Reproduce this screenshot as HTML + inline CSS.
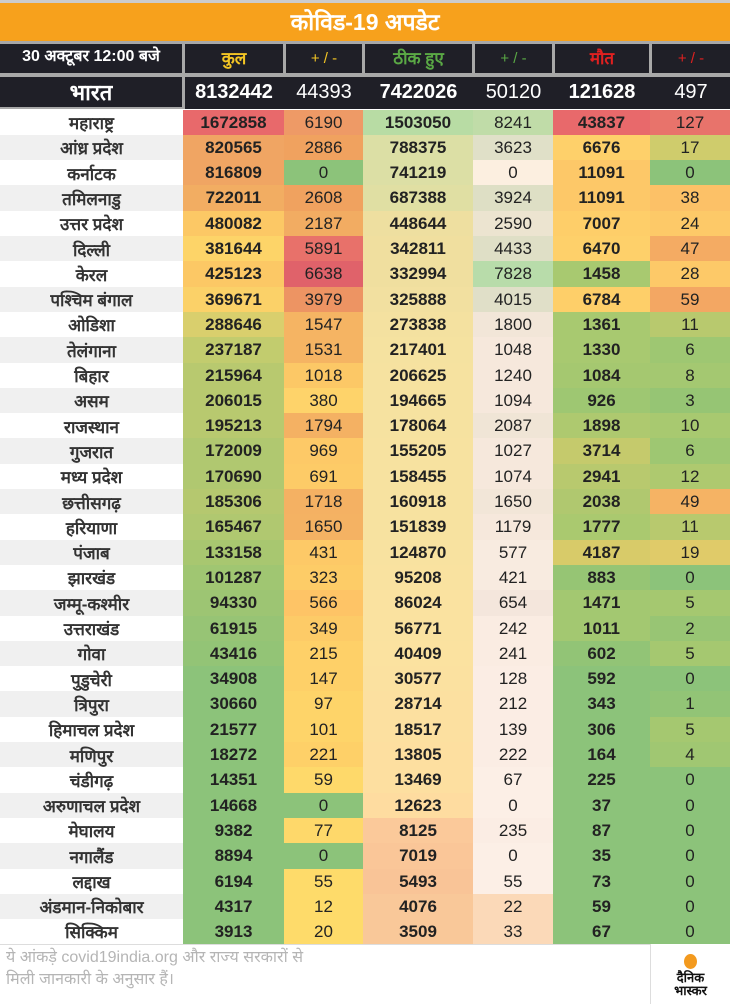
<!DOCTYPE html>
<html><head><meta charset="utf-8"><style>
*{margin:0;padding:0;box-sizing:border-box}
body{width:730px;height:1004px;background:#fff;font-family:"Liberation Sans Narrow","Liberation Sans","Noto Sans CJK SC",sans-serif;overflow:hidden;position:relative}
.top{position:absolute;left:0;top:0;width:730px;height:3px;background:#ccc}
.title{position:absolute;left:0;top:3px;width:730px;height:38px;background:#f7a11c;color:#fff;font:bold 23px "Liberation Sans","Noto Sans CJK SC",sans-serif;text-align:center;line-height:38px}
.hdr{position:absolute;left:0;top:41px;width:730px;height:68px;background:#a8a8a8}
.hc{position:absolute;background:#1f1f27;color:#fff;text-align:center}
.r{position:absolute;left:0;width:730px;height:26px;display:flex}
.r div{height:100%;display:flex;align-items:center;justify-content:center;font-size:17px;color:#222}
.n{width:183px;font-family:"Liberation Sans","Noto Sans CJK SC",sans-serif!important;font-weight:bold;font-size:17px!important;color:#333!important}
.c1{width:101px;font-weight:bold}.c2{width:79px}.c3{width:110px;font-weight:bold}.c4{width:80px}.c5{width:97px;font-weight:bold}.c6{width:80px}
.foot{position:absolute;left:0;top:944px;width:650px;height:60px;color:#b5b5b5;font:16px "Liberation Sans","Noto Sans CJK SC",sans-serif;padding:2px 0 0 6px;line-height:22px;border-top:1px solid #ddd}
.logo{position:absolute;left:650px;top:944px;width:80px;height:60px;border-left:1px solid #ddd;text-align:center}
</style></head><body>
<div class="top"></div>
<div class="title">कोविड-19 अपडेट</div>
<div class="hdr">
<div class="hc" style="left:0;top:3px;width:182px;height:29px;line-height:29px;font:bold 16px 'Liberation Sans','Noto Sans CJK SC',sans-serif">30 अक्टूबर 12:00 बजे</div>
<div class="hc" style="left:185px;top:3px;width:98px;height:29px;line-height:29px;color:#f3c524;font-size:17px;font-weight:bold">कुल</div>
<div class="hc" style="left:286px;top:3px;width:76px;height:29px;line-height:29px;color:#f3c524;font-size:15px">+ / -</div>
<div class="hc" style="left:365px;top:3px;width:107px;height:29px;line-height:29px;color:#5aa845;font-size:17px;font-weight:bold">ठीक हुए</div>
<div class="hc" style="left:475px;top:3px;width:77px;height:29px;line-height:29px;color:#5aa845;font-size:15px">+ / -</div>
<div class="hc" style="left:555px;top:3px;width:94px;height:29px;line-height:29px;color:#e02020;font-size:17px;font-weight:bold">मौत</div>
<div class="hc" style="left:652px;top:3px;width:78px;height:29px;line-height:29px;color:#e02020;font-size:15px">+ / -</div>
<div class="hc" style="left:0;top:36px;width:182px;height:30px;line-height:30px;font:bold 22px 'Liberation Sans','Noto Sans CJK SC',sans-serif">भारत</div>
<div class="hc" style="left:185px;top:36px;width:545px;height:32px"></div>
<div class="hc" style="left:185px;top:36px;width:98px;height:30px;line-height:30px;font-size:20px;font-weight:bold">8132442</div>
<div class="hc" style="left:286px;top:36px;width:76px;height:30px;line-height:30px;font-size:20px">44393</div>
<div class="hc" style="left:365px;top:36px;width:107px;height:30px;line-height:30px;font-size:20px;font-weight:bold">7422026</div>
<div class="hc" style="left:475px;top:36px;width:77px;height:30px;line-height:30px;font-size:20px">50120</div>
<div class="hc" style="left:555px;top:36px;width:94px;height:30px;line-height:30px;font-size:20px;font-weight:bold">121628</div>
<div class="hc" style="left:652px;top:36px;width:78px;height:30px;line-height:30px;font-size:20px">497</div>
</div>

<div class="r" style="top:109.5px"><div class="n" style="background:#fff">महाराष्ट्र</div><div class="c1" style="background:#e8696b">1672858</div><div class="c2" style="background:#ee9a66">6190</div><div class="c3" style="background:#b8dca4">1503050</div><div class="c4" style="background:#c0dca8">8241</div><div class="c5" style="background:#e8696b">43837</div><div class="c6" style="background:#e8736b">127</div></div>
<div class="r" style="top:134.8px"><div class="n" style="background:#f0f0f0">आंध्र प्रदेश</div><div class="c1" style="background:#f0a563">820565</div><div class="c2" style="background:#f0a25f">2886</div><div class="c3" style="background:#dcdfa5">788375</div><div class="c4" style="background:#e0e0c8">3623</div><div class="c5" style="background:#fed06a">6676</div><div class="c6" style="background:#cfcc6c">17</div></div>
<div class="r" style="top:160.1px"><div class="n" style="background:#fff">कर्नाटक</div><div class="c1" style="background:#f0a563">816809</div><div class="c2" style="background:#8cc37a">0</div><div class="c3" style="background:#dcdfa5">741219</div><div class="c4" style="background:#fcefe0">0</div><div class="c5" style="background:#fdc868">11091</div><div class="c6" style="background:#8cc37a">0</div></div>
<div class="r" style="top:185.4px"><div class="n" style="background:#f0f0f0">तमिलनाडु</div><div class="c1" style="background:#f2ad62">722011</div><div class="c2" style="background:#f0a25f">2608</div><div class="c3" style="background:#e0dfa3">687388</div><div class="c4" style="background:#dedfc5">3924</div><div class="c5" style="background:#fdc868">11091</div><div class="c6" style="background:#fcc167">38</div></div>
<div class="r" style="top:210.7px"><div class="n" style="background:#fff">उत्तर प्रदेश</div><div class="c1" style="background:#fcc865">480082</div><div class="c2" style="background:#f2ac62">2187</div><div class="c3" style="background:#eedfa0">448644</div><div class="c4" style="background:#ece4d0">2590</div><div class="c5" style="background:#fece69">7007</div><div class="c6" style="background:#fdc968">24</div></div>
<div class="r" style="top:236px"><div class="n" style="background:#f0f0f0">दिल्ली</div><div class="c1" style="background:#fdd468">381644</div><div class="c2" style="background:#e8716a">5891</div><div class="c3" style="background:#f0df9f">342811</div><div class="c4" style="background:#dfdfc6">4433</div><div class="c5" style="background:#fed06a">6470</div><div class="c6" style="background:#f4ab63">47</div></div>
<div class="r" style="top:261.3px"><div class="n" style="background:#fff">केरल</div><div class="c1" style="background:#fcc865">425123</div><div class="c2" style="background:#e0626a">6638</div><div class="c3" style="background:#f0df9f">332994</div><div class="c4" style="background:#b8dcaa">7828</div><div class="c5" style="background:#a8c970">1458</div><div class="c6" style="background:#fdc968">28</div></div>
<div class="r" style="top:286.6px"><div class="n" style="background:#f0f0f0">पश्चिम बंगाल</div><div class="c1" style="background:#fbd168">369671</div><div class="c2" style="background:#ed9463">3979</div><div class="c3" style="background:#f2e0a0">325888</div><div class="c4" style="background:#e0dfc8">4015</div><div class="c5" style="background:#fecf69">6784</div><div class="c6" style="background:#f3a763">59</div></div>
<div class="r" style="top:311.9px"><div class="n" style="background:#fff">ओडिशा</div><div class="c1" style="background:#d9cf6d">288646</div><div class="c2" style="background:#f5b463">1547</div><div class="c3" style="background:#f4e1a0">273838</div><div class="c4" style="background:#f2e6d8">1800</div><div class="c5" style="background:#a8c970">1361</div><div class="c6" style="background:#b8c96e">11</div></div>
<div class="r" style="top:337.2px"><div class="n" style="background:#f0f0f0">तेलंगाना</div><div class="c1" style="background:#c2cc6e">237187</div><div class="c2" style="background:#f5b463">1531</div><div class="c3" style="background:#f5e2a0">217401</div><div class="c4" style="background:#f6e8dc">1048</div><div class="c5" style="background:#a8c970">1330</div><div class="c6" style="background:#9ec772">6</div></div>
<div class="r" style="top:362.5px"><div class="n" style="background:#fff">बिहार</div><div class="c1" style="background:#b8c96f">215964</div><div class="c2" style="background:#fcc866">1018</div><div class="c3" style="background:#f6e2a0">206625</div><div class="c4" style="background:#f6e8dc">1240</div><div class="c5" style="background:#a5c870">1084</div><div class="c6" style="background:#a4c871">8</div></div>
<div class="r" style="top:387.8px"><div class="n" style="background:#f0f0f0">असम</div><div class="c1" style="background:#b8c96f">206015</div><div class="c2" style="background:#fed36a">380</div><div class="c3" style="background:#f6e2a0">194665</div><div class="c4" style="background:#f6e8dc">1094</div><div class="c5" style="background:#9ec772">926</div><div class="c6" style="background:#96c574">3</div></div>
<div class="r" style="top:413.1px"><div class="n" style="background:#fff">राजस्थान</div><div class="c1" style="background:#b8c96f">195213</div><div class="c2" style="background:#f4b163">1794</div><div class="c3" style="background:#f6e2a0">178064</div><div class="c4" style="background:#f0e5d6">2087</div><div class="c5" style="background:#aec96f">1898</div><div class="c6" style="background:#a8c970">10</div></div>
<div class="r" style="top:438.4px"><div class="n" style="background:#f0f0f0">गुजरात</div><div class="c1" style="background:#b0c870">172009</div><div class="c2" style="background:#fdc967">969</div><div class="c3" style="background:#f7e2a0">155205</div><div class="c4" style="background:#f6e8dc">1027</div><div class="c5" style="background:#c5ca6c">3714</div><div class="c6" style="background:#9ec772">6</div></div>
<div class="r" style="top:463.7px"><div class="n" style="background:#fff">मध्य प्रदेश</div><div class="c1" style="background:#b0c870">170690</div><div class="c2" style="background:#fdcb67">691</div><div class="c3" style="background:#f7e2a0">158455</div><div class="c4" style="background:#f6e8dc">1074</div><div class="c5" style="background:#b8c96e">2941</div><div class="c6" style="background:#aec96f">12</div></div>
<div class="r" style="top:489px"><div class="n" style="background:#f0f0f0">छत्तीसगढ़</div><div class="c1" style="background:#b5c86f">185306</div><div class="c2" style="background:#f4b163">1718</div><div class="c3" style="background:#f7e2a0">160918</div><div class="c4" style="background:#f2e6d8">1650</div><div class="c5" style="background:#b0c86f">2038</div><div class="c6" style="background:#f5b364">49</div></div>
<div class="r" style="top:514.3px"><div class="n" style="background:#fff">हरियाणा</div><div class="c1" style="background:#b0c870">165467</div><div class="c2" style="background:#f4b263">1650</div><div class="c3" style="background:#f7e2a0">151839</div><div class="c4" style="background:#f6e8dc">1179</div><div class="c5" style="background:#aac96f">1777</div><div class="c6" style="background:#b8c96e">11</div></div>
<div class="r" style="top:539.6px"><div class="n" style="background:#f0f0f0">पंजाब</div><div class="c1" style="background:#a8c770">133158</div><div class="c2" style="background:#fdc967">431</div><div class="c3" style="background:#f8e2a0">124870</div><div class="c4" style="background:#f8ebe0">577</div><div class="c5" style="background:#d8cb69">4187</div><div class="c6" style="background:#e0cb69">19</div></div>
<div class="r" style="top:564.9px"><div class="n" style="background:#fff">झारखंड</div><div class="c1" style="background:#a0c672">101287</div><div class="c2" style="background:#fdcc67">323</div><div class="c3" style="background:#f9e2a0">95208</div><div class="c4" style="background:#f8ebe0">421</div><div class="c5" style="background:#96c574">883</div><div class="c6" style="background:#8cc37a">0</div></div>
<div class="r" style="top:590.2px"><div class="n" style="background:#f0f0f0">जम्मू-कश्मीर</div><div class="c1" style="background:#9dc573">94330</div><div class="c2" style="background:#fec466">566</div><div class="c3" style="background:#fae2a0">86024</div><div class="c4" style="background:#f4e6dc">654</div><div class="c5" style="background:#a3c871">1471</div><div class="c6" style="background:#a5c870">5</div></div>
<div class="r" style="top:615.5px"><div class="n" style="background:#fff">उत्तराखंड</div><div class="c1" style="background:#97c475">61915</div><div class="c2" style="background:#fdcb67">349</div><div class="c3" style="background:#fae2a0">56771</div><div class="c4" style="background:#faece2">242</div><div class="c5" style="background:#a3c871">1011</div><div class="c6" style="background:#98c574">2</div></div>
<div class="r" style="top:640.8px"><div class="n" style="background:#f0f0f0">गोवा</div><div class="c1" style="background:#93c476">43416</div><div class="c2" style="background:#fed068">215</div><div class="c3" style="background:#fbe2a0">40409</div><div class="c4" style="background:#faece2">241</div><div class="c5" style="background:#92c476">602</div><div class="c6" style="background:#a5c870">5</div></div>
<div class="r" style="top:666.1px"><div class="n" style="background:#fff">पुडुचेरी</div><div class="c1" style="background:#8cc37a">34908</div><div class="c2" style="background:#fed068">147</div><div class="c3" style="background:#fbe1a0">30577</div><div class="c4" style="background:#fbede4">128</div><div class="c5" style="background:#8cc37a">592</div><div class="c6" style="background:#8cc37a">0</div></div>
<div class="r" style="top:691.4px"><div class="n" style="background:#f0f0f0">त्रिपुरा</div><div class="c1" style="background:#8cc37a">30660</div><div class="c2" style="background:#fed469">97</div><div class="c3" style="background:#fce0a0">28714</div><div class="c4" style="background:#fbede4">212</div><div class="c5" style="background:#8cc37a">343</div><div class="c6" style="background:#92c476">1</div></div>
<div class="r" style="top:716.7px"><div class="n" style="background:#fff">हिमाचल प्रदेश</div><div class="c1" style="background:#8cc37a">21577</div><div class="c2" style="background:#fed469">101</div><div class="c3" style="background:#fce0a0">18517</div><div class="c4" style="background:#fbede4">139</div><div class="c5" style="background:#8cc37a">306</div><div class="c6" style="background:#a5c870">5</div></div>
<div class="r" style="top:742px"><div class="n" style="background:#f0f0f0">मणिपुर</div><div class="c1" style="background:#8cc37a">18272</div><div class="c2" style="background:#fed068">221</div><div class="c3" style="background:#fddfa0">13805</div><div class="c4" style="background:#fbede4">222</div><div class="c5" style="background:#8cc37a">164</div><div class="c6" style="background:#a0c772">4</div></div>
<div class="r" style="top:767.3px"><div class="n" style="background:#fff">चंडीगढ़</div><div class="c1" style="background:#8cc37a">14351</div><div class="c2" style="background:#fed96a">59</div><div class="c3" style="background:#fddfa0">13469</div><div class="c4" style="background:#fcefe6">67</div><div class="c5" style="background:#8cc37a">225</div><div class="c6" style="background:#8cc37a">0</div></div>
<div class="r" style="top:792.6px"><div class="n" style="background:#f0f0f0">अरुणाचल प्रदेश</div><div class="c1" style="background:#8cc37a">14668</div><div class="c2" style="background:#8cc37a">0</div><div class="c3" style="background:#fedca0">12623</div><div class="c4" style="background:#fcefe6">0</div><div class="c5" style="background:#8cc37a">37</div><div class="c6" style="background:#8cc37a">0</div></div>
<div class="r" style="top:817.9px"><div class="n" style="background:#fff">मेघालय</div><div class="c1" style="background:#8cc37a">9382</div><div class="c2" style="background:#fed86a">77</div><div class="c3" style="background:#fbc99a">8125</div><div class="c4" style="background:#fbede4">235</div><div class="c5" style="background:#8cc37a">87</div><div class="c6" style="background:#8cc37a">0</div></div>
<div class="r" style="top:843.2px"><div class="n" style="background:#f0f0f0">नगालैंड</div><div class="c1" style="background:#8cc37a">8894</div><div class="c2" style="background:#8cc37a">0</div><div class="c3" style="background:#fac698">7019</div><div class="c4" style="background:#fcefe6">0</div><div class="c5" style="background:#8cc37a">35</div><div class="c6" style="background:#8cc37a">0</div></div>
<div class="r" style="top:868.5px"><div class="n" style="background:#fff">लद्दाख</div><div class="c1" style="background:#8cc37a">6194</div><div class="c2" style="background:#fedb6a">55</div><div class="c3" style="background:#f9c497">5493</div><div class="c4" style="background:#fcefe6">55</div><div class="c5" style="background:#8cc37a">73</div><div class="c6" style="background:#8cc37a">0</div></div>
<div class="r" style="top:893.8px"><div class="n" style="background:#f0f0f0">अंडमान-निकोबार</div><div class="c1" style="background:#8cc37a">4317</div><div class="c2" style="background:#fedb6a">12</div><div class="c3" style="background:#f9c899">4076</div><div class="c4" style="background:#fbd9b8">22</div><div class="c5" style="background:#8cc37a">59</div><div class="c6" style="background:#8cc37a">0</div></div>
<div class="r" style="top:919.1px;height:25px"><div class="n" style="background:#fff">सिक्किम</div><div class="c1" style="background:#8cc37a">3913</div><div class="c2" style="background:#fedb6a">20</div><div class="c3" style="background:#f9c899">3509</div><div class="c4" style="background:#fbd9b8">33</div><div class="c5" style="background:#8cc37a">67</div><div class="c6" style="background:#8cc37a">0</div></div>

<div class="foot">ये आंकड़े covid19india.org और राज्य सरकारों से<br>मिली जानकारी के अनुसार हैं।</div>
<div class="logo"><div style="width:13px;height:15px;border-radius:50%;background:#f39a1e;margin:10px auto 2px"></div><div style="font:bold 13px/13px 'Liberation Sans','Noto Sans CJK SC',sans-serif;color:#111">दैनिक<br>भास्कर</div></div>
</body></html>
